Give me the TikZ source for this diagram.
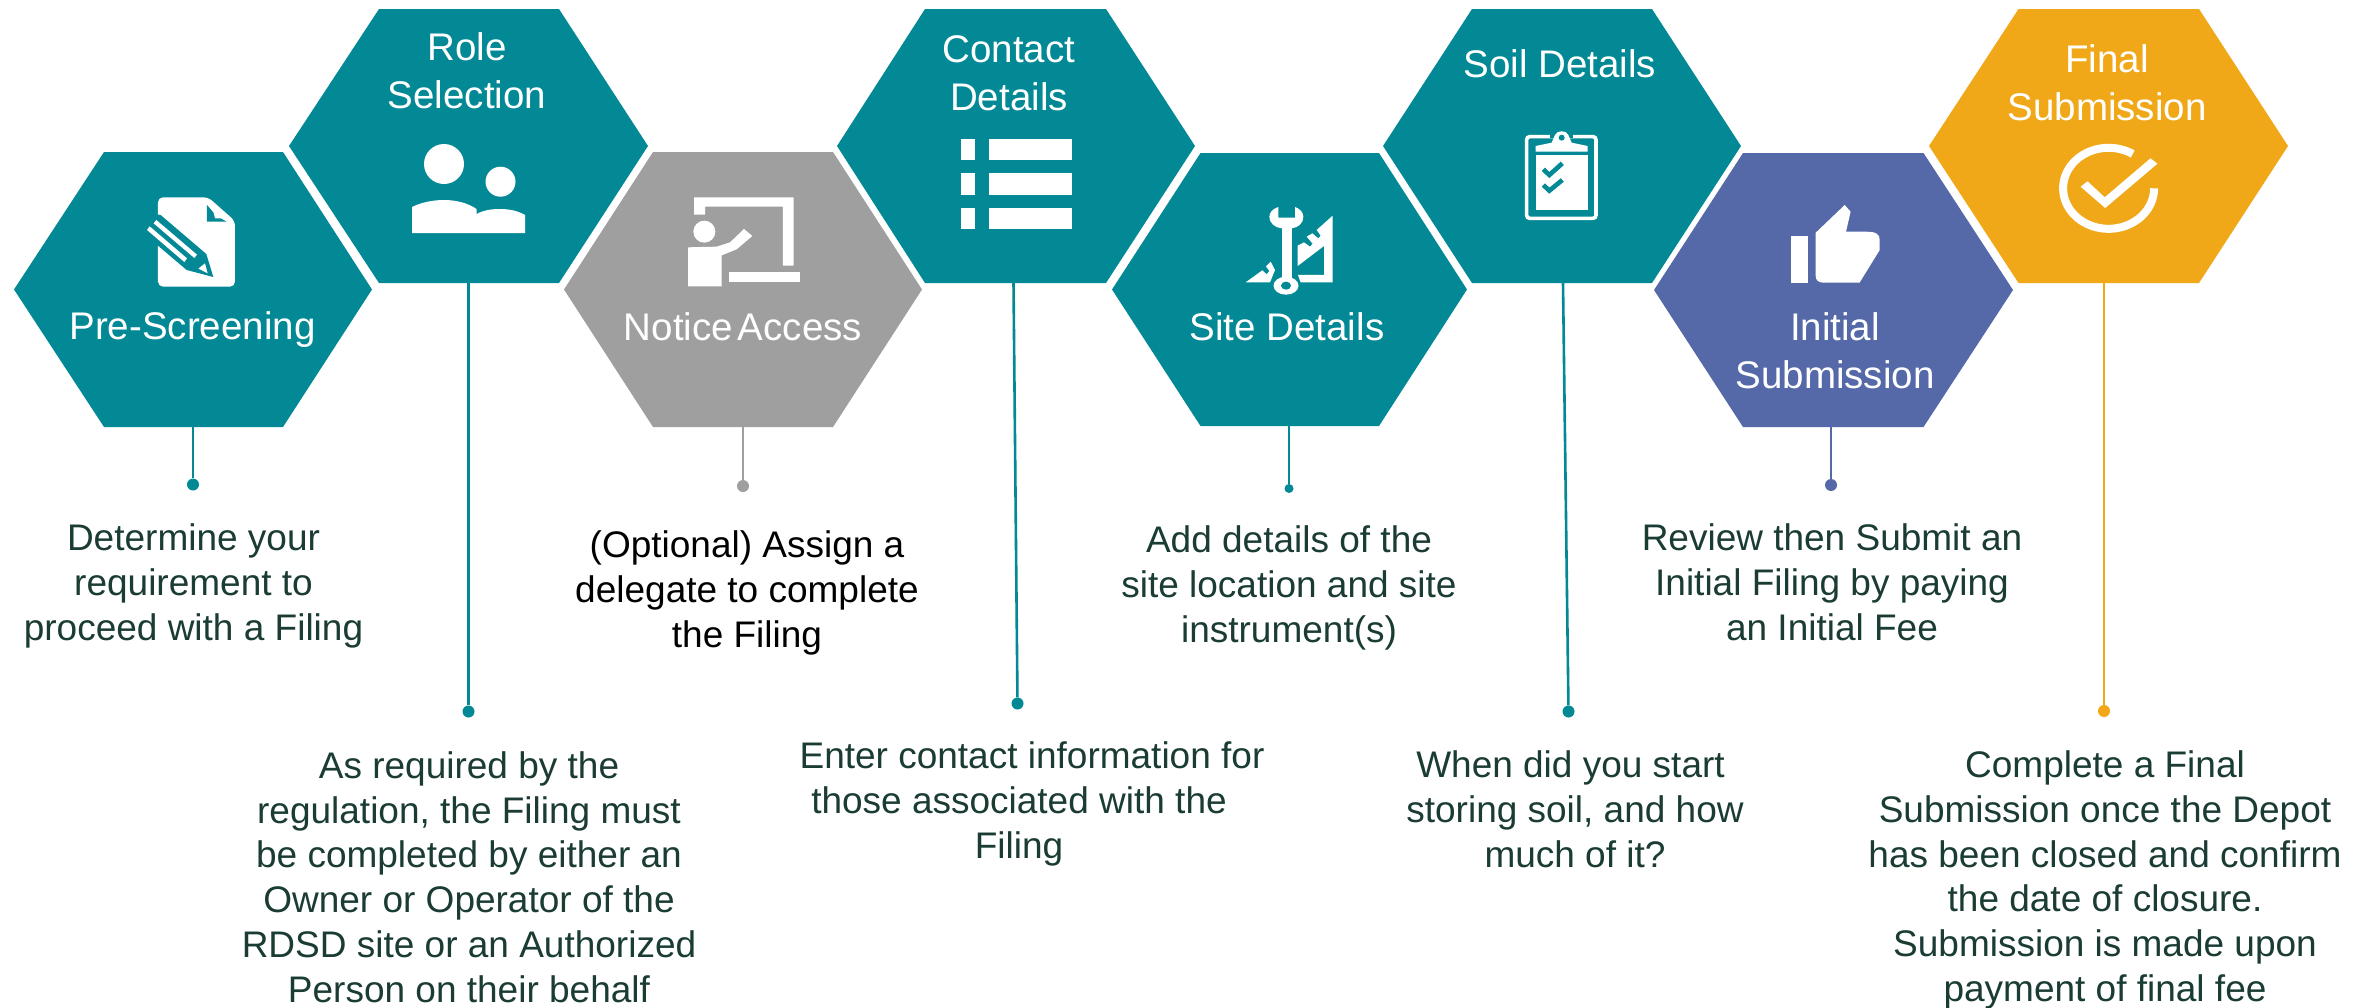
\documentclass[tikz,border=0pt]{standalone}
\usepackage{fontspec}
\setmainfont{Liberation Sans}
\definecolor{tealc}{HTML}{038995}
\definecolor{grayc}{HTML}{9F9F9F}
\definecolor{bluec}{HTML}{5569A9}
\definecolor{orangec}{HTML}{F0A818}
\definecolor{textc}{HTML}{1A3C34}
\tikzset{
  hexbox/.style={inner sep=0pt,outer sep=0pt},
  hexlabel/.style={text=white,align=center,inner sep=0pt,font=\fontsize{38.5}{48}\selectfont},
  desc/.style={text=textc,align=center,inner sep=0pt,font=\fontsize{37}{44.8}\selectfont},
  dotnode/.style={circle,inner sep=0pt,minimum size=12pt,fill=#1},
  stem/.style={draw=#1,line width=2.6pt},
  icon/.style={fill=white,draw=none}
}
% name, colour, left, flat-left, flat-right, right, top, bottom
\newcommand{\hexa}[8]{%
  \fill[#2] (#3,{(#7+#8)/2}) -- (#4,#7) -- (#5,#7) -- (#6,{(#7+#8)/2}) -- (#5,#8) -- (#4,#8) -- cycle;
  \node[hexbox,minimum width={(#6-#3)*1pt},minimum height={(#8-#7)*1pt}] (#1) at ({(#3+#6)/2},{(#7+#8)/2}) {};
}
\begin{document}
\begin{tikzpicture}[x=1pt,y=-1pt]
\useasboundingbox (0,0) rectangle (2372,1007);
\fill[white] (0,0) rectangle (2372,1007);
% dots
\node[dotnode=tealc] (d1) at (193,484.5) {};
\node[dotnode=tealc] (d2) at (468.5,711.5) {};
\node[dotnode=grayc] (d3) at (743,486) {};
\node[dotnode=tealc] (d4) at (1017.5,703.5) {};
\node[dotnode=tealc,minimum size=9pt] (d5) at (1289,488.5) {};
\node[dotnode=tealc] (d6) at (1568.5,711.5) {};
\node[dotnode=bluec] (d7) at (1831,485) {};
\node[dotnode=orangec] (d8) at (2104,711) {};
% hexagons
\hexa{h1}{tealc}{14}{104}{283}{372}{152}{427}
\hexa{h2}{tealc}{289}{379}{559}{648}{9}{283}
\hexa{h3}{grayc}{564}{653}{833}{922}{152}{427}
\hexa{h4}{tealc}{837}{925}{1106}{1195}{9}{283}
\hexa{h5}{tealc}{1112}{1200.5}{1379}{1467}{153}{426}
\hexa{h6}{tealc}{1383}{1472}{1652}{1741}{9}{283}
\hexa{h7}{bluec}{1654}{1743}{1923.5}{2013}{153}{427}
\hexa{h8}{orangec}{1929}{2018.5}{2199}{2288}{9}{283}
% connectors
\draw[stem=tealc] (h1.south -| d1) -- (d1);
\draw[stem=tealc] (h2.south -| d2) -- (d2);
\draw[stem=grayc] (h3.south -| d3) -- (d3);
\draw[stem=tealc] ([xshift=-2.5pt]h4.south) -- (d4);
\draw[stem=tealc] (h5.south -| d5) -- (d5);
\draw[stem=tealc] ([xshift=1pt]h6.south) -- (d6);
\draw[stem=bluec] (h7.south -| d7) -- (d7);
\draw[stem=orangec] (h8.south -| d8) -- (d8);
% hexagon labels
\node[hexlabel] (l1) at (192.5,330) {Pre-Screening};
\node[hexlabel] (l2) at (467,71) {Role\\Selection};
\node[hexlabel] (l3) at (743,327) {Notice\hspace{5pt}Access};
\node[hexlabel] (l4) at (1009,73.5) {Contact\\Details};
\node[hexlabel] (l5) at (1287,327) {Site Details};
\node[hexlabel] (l6) at (1560,64) {Soil Details};
\node[hexlabel] (l7) at (1835,351) {Initial\\Submission};
\node[hexlabel] (l8) at (2107,83) {Final\\Submission};
% descriptions
\node[desc] (t1) at (193.5,586) {Determine your\\requirement to\\proceed with a Filing};
\node[desc] (t2) at (469,877) {As required by the\\regulation, the Filing must\\be completed by either an\\Owner or Operator of the\\RDSD site or an Authorized\\Person on their behalf};
\node[desc,text=black] (t3) at (747,593) {(Optional) Assign a\\delegate to complete\\the Filing};
\node[desc] (t4) at (1019,804) {\hspace*{26pt}Enter contact information for\\those associated with the\\Filing};
\node[desc] (t5) at (1289,588) {Add details of the\\site location and site\\instrument(s)};
\node[desc] (t6) at (1575,809) {When did you start\hspace*{9pt}\\storing soil, and how\\much of it?};
\node[desc] (t7) at (1832,582) {Review then Submit an\\Initial Filing by paying\\an Initial Fee};
\node[desc] (t8) at (2105,880) {Complete a Final\\Submission once the Depot\\has been closed and confirm\\the date of closure.\\Submission is made upon\\payment of final fee};
% icon: document and pencil
\begin{scope}[shift={(130,180)},x=0.3333pt,y=-0.3333pt]
  \fill[icon,rounded corners=5pt] (84,52) -- (235,52) -- (315,123) -- (315,320) -- (84,320) -- cycle;
  \fill[tealc] (231,75) -- (250,97) -- (255,115) -- (272,115) -- (290,125) -- (231,125) -- cycle;
  \fill[tealc] (60,100) -- (92,105) -- (229,222) -- (250,291) -- (170,270) -- (84,197) -- (40,160) -- cycle;
  \fill[icon] (79,120) -- (201,224) -- (193,234) -- (71,130) -- cycle;
  \fill[icon] (59,139) -- (171,235) -- (163,246) -- (51,150) -- cycle;
  \fill[icon] (205,266) -- (225,250) -- (233,280) -- cycle;
\end{scope}
% icon: people
\fill[icon] (444,164) circle[radius=20pt];
\fill[icon] (500.5,181.7) circle[radius=15pt];
\fill[icon] (412,207) .. controls (422,202) and (434,200) .. (444,200) .. controls (456,200) and (468,203) .. (476.5,209) -- (476.5,214) .. controls (484,210) and (492,209) .. (500,209) .. controls (510,209) and (518,211) .. (525,215) -- (525,233) -- (412,233) -- cycle;
% icon: presenter
\begin{scope}[shift={(670,180)},x=0.3333pt,y=-0.3333pt]
  \fill[icon] (72,52) -- (371,52) -- (371,257) -- (339,257) -- (339,80) -- (105,80) -- (105,104) -- (72,104) -- cycle;
  \fill[icon] (177,276) rectangle (390,306);
  \fill[icon] (103,155) circle[radius=11pt];
  \fill[icon] (54,202) -- (140,200) -- (180,187) -- (222,147) -- (247,168) -- (200,208) -- (155,226) -- (155,319) -- (54,319) -- cycle;
\end{scope}
% icon: list
\foreach \ya/\yb in {139/160,173/195,208/229}{
  \fill[icon] (961,\ya) rectangle (975,\yb);
  \fill[icon] (989,\ya) rectangle (1072,\yb);
}
% icon: wrench and set square
\begin{scope}[shift={(1230,195)},x=0.3333pt,y=-0.3333pt]
  \fill[icon] (308,62) -- (308,262) -- (212,262) -- (204,240) -- (282,240) -- (282,153) -- (203,213) -- (203,152) -- (222,142) -- (240,155) -- (248,146) -- (230,125) -- (247,115) -- (265,130) -- (272,122) -- (260,105) -- cycle;
  \fill[icon] (47,262) -- (97,226) -- (110,238) -- (118,228) -- (108,214) -- (122,200) -- (135,225) -- (120,262) -- cycle;
  \fill[tealc] (147,95) rectangle (193,250);
  \fill[icon] (145,36) .. controls (125,42) and (118,55) .. (118,66) .. controls (118,84) and (135,98) .. (155,100) -- (185,100) .. controls (205,98) and (220,84) .. (220,66) .. controls (220,55) and (213,42) .. (195,36) -- (195,68) -- (145,68) -- cycle;
  \fill[icon] (155,85) rectangle (185,250);
  \fill[icon] (168,272) ellipse[x radius=12.5pt,y radius=9pt];
  \fill[tealc] (168,272) ellipse[x radius=5pt,y radius=4pt];
\end{scope}
% icon: clipboard
\begin{scope}[shift={(1510,120)},x=0.3333pt,y=-0.3333pt]
  \draw[white,line width=3.6pt,rounded corners=3pt] (50,50) rectangle (258,295);
  \fill[icon] (77,105) rectangle (233,270);
  \fill[tealc] (120,35) rectangle (190,55);
  \fill[icon] (77,95) -- (77,78) -- (125,68) -- (135,45) .. controls (140,30) and (170,30) .. (175,45) -- (185,68) -- (233,78) -- (233,95) -- cycle;
  \fill[tealc] (155,53) circle[radius=3pt];
  \draw[tealc,line width=4.6pt] (100,148) -- (118,165) -- (157,130);
  \draw[tealc,line width=4.6pt] (100,195) -- (118,212) -- (157,180);
\end{scope}
% icon: thumb up
\fill[icon] (1791,236) rectangle (1808,283);
\fill[icon] (1815.7,232.7) -- (1844.7,205) -- (1850.6,211.7) -- (1846,231.7) -- (1866,231.7) .. controls (1876,231.7) and (1879.7,234) .. (1879.7,240) -- (1879.7,250) -- (1859.5,282.7) -- (1824,282.7) .. controls (1818,282.7) and (1815.7,280) .. (1815.7,276) -- cycle;
% icon: check circle
\draw[white,line width=8pt,domain=0:302,samples=70,smooth,variable=\a] plot ({2108.6+45.5*cos(\a)},{188.3+40.5*sin(\a)});
\fill[icon] (2080.6,186.7) -- (2087.5,181.3) -- (2104.7,197.3) -- (2150.5,158.3) -- (2157.4,163.7) -- (2105.2,208) -- cycle;
\end{tikzpicture}
\end{document}
